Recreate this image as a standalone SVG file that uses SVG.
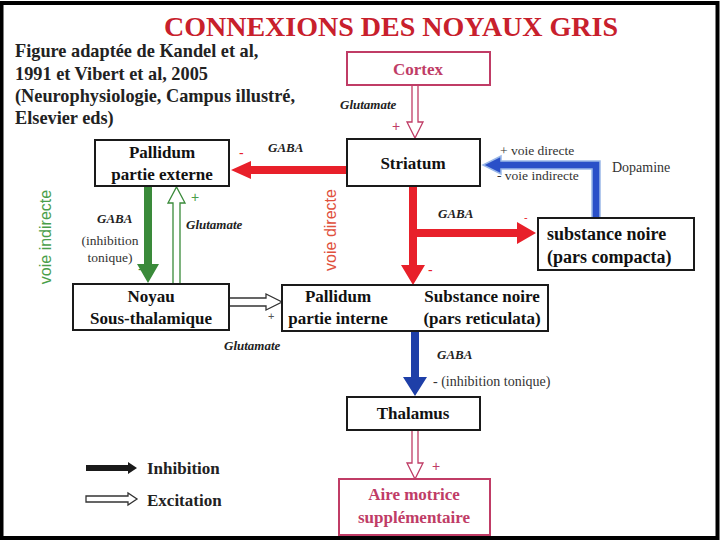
<svg xmlns="http://www.w3.org/2000/svg" width="720" height="540" viewBox="0 0 720 540">
<style>
.serif{font-family:"Liberation Serif","Times New Roman",serif}
.b{font-weight:bold}
.lbl{font-family:"Liberation Serif",serif;font-weight:bold;font-size:17px;fill:#111;text-anchor:middle}
.lft{text-anchor:start;font-size:18px}
.pink{fill:#c03c66}
.box{fill:#fff;stroke:#1a1a1a;stroke-width:2}
.pbox{fill:#fff;stroke:#c03c66;stroke-width:2}
.it{font-family:"Liberation Serif",serif;font-style:italic;font-weight:bold;font-size:13px;fill:#222}
.sm{font-family:"Liberation Serif",serif;font-size:13.5px;fill:#333}
.red{fill:#e8202a}
.grn{fill:#3a8a3a}
.blu{fill:#1e3fa8}
.hol{fill:#fff;stroke-width:1.3}
</style>
<rect x="0" y="0" width="720" height="540" fill="#fff"/>
<rect x="1.5" y="3" width="716" height="535" fill="none" stroke="#000" stroke-width="4"/>
<text x="391" y="36" class="serif b" font-size="28" fill="#c8202c" text-anchor="middle">CONNEXIONS DES NOYAUX GRIS</text>
<g class="serif b" font-size="18.3" fill="#222">
<text x="15" y="57">Figure adaptée de Kandel et al,</text>
<text x="15" y="80">1991 et Vibert et al, 2005</text>
<text x="15" y="102">(Neurophysiologie, Campus illustré,</text>
<text x="15" y="124">Elsevier eds)</text>
</g>
<text transform="translate(51,237) rotate(-90)" font-family="Liberation Sans,Arial,sans-serif" font-size="16" fill="#4a9e4a" text-anchor="middle">voie indirecte</text>
<text transform="translate(336,230) rotate(-90)" font-family="Liberation Sans,Arial,sans-serif" font-size="16" fill="#e0503c" text-anchor="middle">voie directe</text>

<g id="connectors">
<polygon class="hol" stroke="#c03c66" points="412,85 418,85 418,122 423,122 415,138 407,122 412,122"/>
<polygon class="red" points="347,166 251,166 251,161 231,170 251,179 251,174 347,174"/>
<polygon class="red" points="409,186 417,186 417,229 517,229 517,222 536,233 517,244 517,237 417,237 417,265 425,265 413,285 401,265 409,265"/>
<polygon fill="#2a50c8" stroke="#9ab8e8" stroke-width="1.5" points="600,218 600,161 501,161 501,156 483,165 501,174 501,169 592,169 592,218"/>
<polygon class="grn" points="144,186 152,186 152,264 159,264 148,283 137,264 144,264"/>
<polygon class="hol" stroke="#3a8a3a" points="173,284 180,284 180,203 185,203 176.5,187 168,203 173,203"/>
<polygon class="hol" stroke="#333" points="229,298 266,298 266,294 282,302 266,310 266,306 229,306"/>
<polygon class="blu" points="411,331 419,331 419,377 427,377 415,396 403,377 411,377"/>
<polygon class="hol" stroke="#c03c66" points="412,430 418,430 418,463 423,463 415,479 407,463 412,463"/>
<polygon fill="#1a1a1a" points="86,465 128,465 128,462 137,468 128,474 128,471 86,471"/>
<polygon class="hol" stroke="#333" points="86,496 128,496 128,493 137,499 128,505 128,502 86,502"/>
</g>

<g class="it">
<text x="340" y="109">Glutamate</text>
<text x="268" y="152">GABA</text>
<text x="438" y="218">GABA</text>
<text x="97" y="223">GABA</text>
<text x="186" y="229">Glutamate</text>
<text x="224" y="350">Glutamate</text>
<text x="437" y="359">GABA</text>
</g>
<g class="sm">
<text x="110" y="245" text-anchor="middle">(inhibition</text>
<text x="110" y="262" text-anchor="middle">tonique)</text>
<text x="500" y="155">+ voie directe</text>
<text x="497" y="180">- voie indirecte</text>
<text x="612" y="172" font-size="14">Dopamine</text>
<text x="433" y="386" font-size="14">- (inhibition tonique)</text>
</g>
<g font-family="Liberation Sans,Arial,sans-serif" font-size="14">
<text x="392" y="131" fill="#c03c66">+</text>
<text x="239" y="158" fill="#e8202a">-</text>
<text x="524" y="221" fill="#e8202a" font-size="11">-</text>
<text x="428" y="275" fill="#e8202a">-</text>
<text x="191" y="202" fill="#4a9e4a">+</text>
<text x="138" y="274" fill="#3a8a3a">-</text>
<text x="268" y="320" fill="#555" font-size="11">+</text>
<text x="432" y="471" fill="#c03c66">+</text>
</g>

<g id="cortex"><rect class="pbox" x="347" y="52" width="143" height="33"/><text class="lbl pink" x="418" y="75">Cortex</text></g>
<g id="striatum"><rect class="box" x="347" y="139" width="133" height="47"/><text class="lbl" x="413" y="169" font-size="18">Striatum</text></g>
<g id="gpe"><rect class="box" x="95" y="140" width="134" height="46"/><text class="lbl" x="162" y="158">Pallidum</text><text class="lbl" x="162" y="180">partie externe</text></g>
<g id="snc"><rect class="box" x="538" y="218" width="156" height="52"/><text class="lbl lft" x="547" y="240">substance noire</text><text class="lbl lft" x="547" y="263">(pars compacta)</text></g>
<g id="stn"><rect class="box" x="73" y="284" width="156" height="46"/><text class="lbl" x="151" y="302">Noyau</text><text class="lbl" x="151" y="324">Sous-thalamique</text></g>
<g id="gpi"><rect class="box" x="282" y="285" width="266" height="46"/><text class="lbl" x="338" y="302" font-size="15">Pallidum</text><text class="lbl" x="338" y="324" font-size="15">partie interne</text><text class="lbl" x="482" y="302" font-size="15">Substance noire</text><text class="lbl" x="482" y="324" font-size="15">(pars reticulata)</text></g>
<g id="thalamus"><rect class="box" x="347" y="397" width="133" height="33"/><text class="lbl" x="413" y="419">Thalamus</text></g>
<g id="ams"><rect class="pbox" x="339" y="479" width="151" height="56"/><text class="lbl pink" x="414" y="500">Aire motrice</text><text class="lbl pink" x="414" y="523">supplémentaire</text></g>
<g id="legend" class="serif b" font-size="17" fill="#222"><text x="147" y="474">Inhibition</text><text x="147" y="506">Excitation</text></g>
</svg>
